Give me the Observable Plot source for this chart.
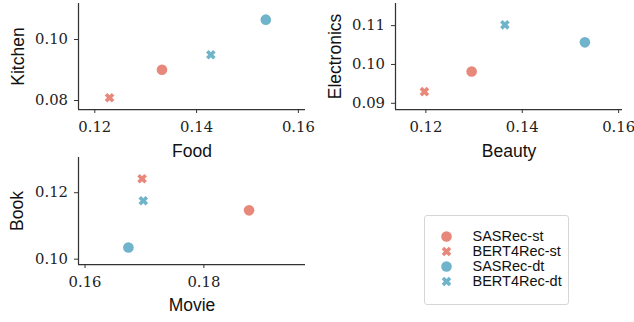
<!DOCTYPE html>
<html><head><meta charset="utf-8">
<script src="https://cdn.jsdelivr.net/npm/d3@7"></script>
<script src="https://cdn.jsdelivr.net/npm/@observablehq/plot@0.6"></script>
<style>
html,body{margin:0;padding:0;background:#fff;}
#root{position:relative;width:634px;height:322px;overflow:hidden;background:#fff;}
#root svg{position:absolute;background:transparent;}
#legend{position:absolute;left:424px;top:215px;width:145px;height:90px;border:1px solid #d6d6d6;border-radius:3px;box-sizing:border-box;}
#legend svg{position:absolute;left:0;top:0;}
</style></head><body><div id="root"><div id="legend"></div></div>
<script>
// ---- data ----
const models = ["SASRec-st", "BERT4Rec-st", "SASRec-dt", "BERT4Rec-dt"];
const food        = [0.1332, 0.1229, 0.1536, 0.1428];
const kitchen     = [0.0901, 0.0809, 0.1065, 0.0950];
const beauty      = [0.1295, 0.1197, 0.1530, 0.1364];
const electronics = [0.0982, 0.0930, 0.1057, 0.1102];
const movie       = [0.1876, 0.1696, 0.1673, 0.1698];
const book        = [0.1147, 0.1242, 0.1035, 0.1176];
const ticks12to16 = [0.12, 0.14, 0.16];
const kitchenTicks = [0.08, 0.10];
const electronicsTicks = [0.09, 0.10, 0.11];
const movieTicks = [0.16, 0.18];
const bookTicks = [0.10, 0.12];

// ---- styles ----
const colors = ["#e8887b", "#e8887b", "#6fb4ca", "#6fb4ca"];
const serif = "'DejaVu Serif', 'Liberation Serif', serif";
const sans = "'Liberation Sans', Arial, sans-serif";
const spine = "#333";
const tickFont = 14.8;

// filled X symbol (matplotlib 'X' style)
const xFilled = {
  draw(ctx, size) {
    const r = Math.sqrt(size / Math.PI);
    const L = r * 1.0, t = r * 0.36;
    const pts = [[t,L],[t,t],[L,t],[L,-t],[t,-t],[t,-L],[-t,-L],[-t,-t],[-L,-t],[-L,t],[-t,t],[-t,L]];
    const s = Math.SQRT1_2;
    pts.forEach(([x, y], i) => {
      const X = (x - y) * s, Y = (x + y) * s;
      if (i === 0) ctx.moveTo(X, Y); else ctx.lineTo(X, Y);
    });
    ctx.closePath();
  }
};

const root = document.getElementById("root");

function panel({xs, ys, xLabel, yLabel, xDomain, yDomain, xTicks, yTicks, left, top, width, height, m, xLabelDy, yLabelDx}) {
  const rows = models.map((model, i) => ({model, x: xs[i], y: ys[i]}));
  const circles = rows.filter(d => d.model.startsWith("SASRec"));
  const crosses = rows.filter(d => d.model.startsWith("BERT4Rec"));
  const svg = Plot.plot({
    width, height,
    marginLeft: m[0], marginRight: m[1], marginTop: m[2], marginBottom: m[3],
    style: {background: "transparent", overflow: "visible"},
    x: {domain: xDomain, axis: null},
    y: {domain: yDomain, axis: null},
    color: {domain: models, range: colors},
    marks: [
      Plot.ruleX([xDomain[0]], {stroke: spine, strokeWidth: 1.25}),
      Plot.ruleY([yDomain[0]], {stroke: spine, strokeWidth: 1.25}),
      Plot.axisX({ticks: xTicks, tickFormat: d3.format(".2f"), tickSize: 4, tickPadding: 8, fontSize: tickFont, fontFamily: serif, stroke: spine, fill: "#222", strokeWidth: 1, label: null}),
      Plot.axisY({ticks: yTicks, tickFormat: d3.format(".2f"), tickSize: 4, tickPadding: 6.5, fontSize: tickFont, fontFamily: serif, stroke: spine, fill: "#222", strokeWidth: 1, label: null}),
      Plot.dot(circles, {x: "x", y: "y", fill: "model", r: 5.3, symbol: "circle"}),
      Plot.dot(crosses, {x: "x", y: "y", fill: "model", r: 5, symbol: xFilled}),
      Plot.text([xLabel], {text: d => d, frameAnchor: "bottom", lineAnchor: "middle", textAnchor: "middle", dy: xLabelDy, fontSize: 17.5, fontFamily: sans, fill: "#111"}),
      Plot.text([yLabel], {text: d => d, frameAnchor: "left", lineAnchor: "middle", textAnchor: "middle", dx: yLabelDx, rotate: -90, fontSize: 17.5, fontFamily: sans, fill: "#111"})
    ]
  });
  svg.style.left = left + "px";
  svg.style.top = top + "px";
  root.appendChild(svg);
}

panel({xs: food, ys: kitchen, xLabel: "Food", yLabel: "Kitchen",
  xDomain: [0.1168, 0.1614], yDomain: [0.07705, 0.1118], xTicks: ticks12to16, yTicks: kitchenTicks,
  left: 0, top: 0, width: 317, height: 161, m: [78, 12, 3, 52], xLabelDy: 42, yLabelDx: -60});

panel({xs: beauty, ys: electronics, xLabel: "Beauty", yLabel: "Electronics",
  xDomain: [0.1137, 0.1608], yDomain: [0.0884, 0.1157], xTicks: ticks12to16, yTicks: electronicsTicks,
  left: 317, top: 0, width: 317, height: 161, m: [78, 12, 3, 52], xLabelDy: 42, yLabelDx: -60});

panel({xs: movie, ys: book, xLabel: "Movie", yLabel: "Book",
  xDomain: [0.1589, 0.1971], yDomain: [0.0984, 0.1306], xTicks: movieTicks, yTicks: bookTicks,
  left: 0, top: 150, width: 317, height: 172, m: [78, 12, 7, 58], xLabelDy: 41, yLabelDx: -61});

// ---- legend ----
const legendRows = models.map(model => ({model, shape: model.startsWith("SASRec") ? "circle" : "x"}));
const legend = Plot.plot({
  width: 143, height: 88,
  margin: 0,
  style: {background: "transparent"},
  y: {type: "point", domain: models, range: [10.5, 74], axis: null},
  color: {domain: models, range: colors},
  marks: [
    Plot.dot(legendRows.filter(d => d.shape === "circle"), {y: "model", fill: "model", r: 5.3, frameAnchor: "left", dx: 21}),
    Plot.dot(legendRows.filter(d => d.shape === "x"), {y: "model", fill: "model", r: 5, symbol: xFilled, frameAnchor: "left", dx: 21}),
    Plot.text(legendRows, {y: "model", text: "model", frameAnchor: "left", dx: 47, textAnchor: "start", fontSize: 14.5, fontFamily: sans, fill: "#111"})
  ]
});
document.getElementById("legend").appendChild(legend);
</script>
</body></html>
